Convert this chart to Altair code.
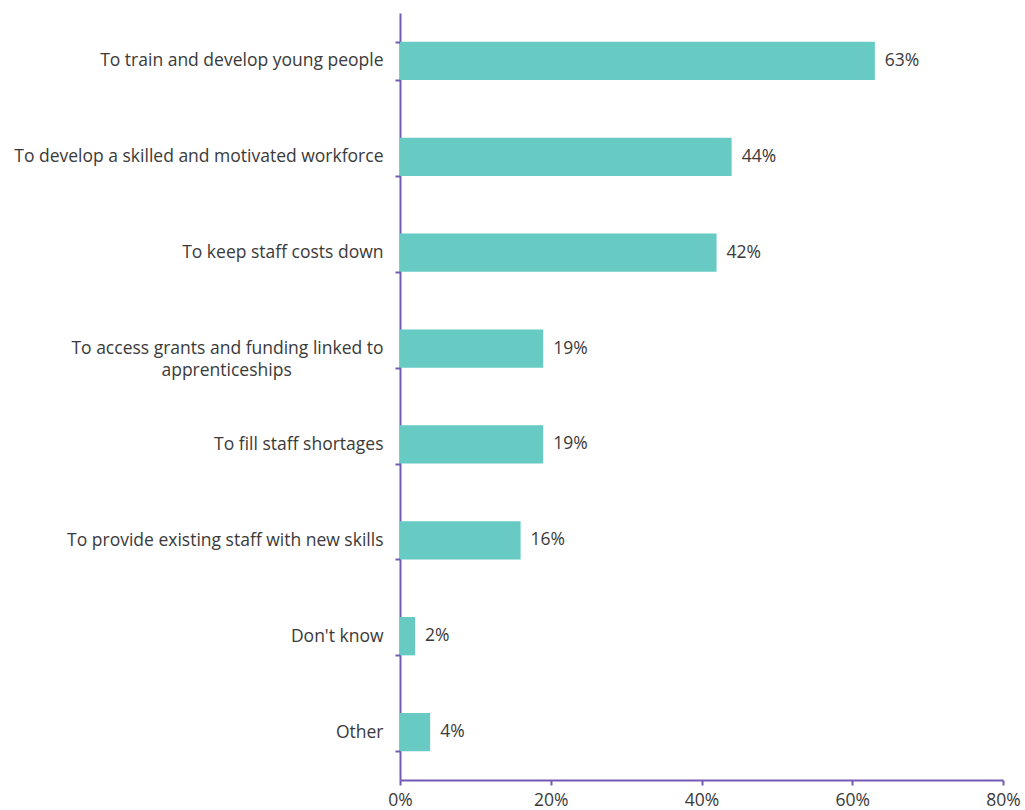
import altair as alt
import pandas as pd

categories = [
    "To train and develop young people",
    "To develop a skilled and motivated workforce",
    "To keep staff costs down",
    "To access grants and funding linked to|apprenticeships\u2003\u2003\u2003\u2003\u2002\u2800",
    "To fill staff shortages",
    "To provide existing staff with new skills",
    "Don't know",
    "Other",
]
values = [0.63, 0.44, 0.42, 0.19, 0.19, 0.16, 0.02, 0.04]
x_ticks = [0, 0.2, 0.4, 0.6, 0.8]

df = pd.DataFrame({"cat": categories, "val": values})
df["lab"] = [f"{round(v*100)}%" for v in values]

AXIS = "#7559B6"
BAR = "#67CBC4"
TXT = "#3a3a3a"
FONT = "Open Sans"
FS = 17.5

y_enc = alt.Y(
    "cat:N",
    sort=categories,
    title=None,
    scale=alt.Scale(paddingInner=0.6, paddingOuter=0.3),
    axis=alt.Axis(
        domainColor=AXIS,
        domainWidth=2,
        tickColor=AXIS,
        tickWidth=2,
        tickSize=5,
        tickBand="extent",
        labelFont=FONT,
        labelFontSize=FS,
        labelColor=TXT,
        labelPadding=12,
        labelLimit=500,
        labelLineHeight=22,
        labelExpr="split(datum.label, '|')",
    ),
)

x_enc = alt.X(
    "val:Q",
    title=None,
    scale=alt.Scale(domain=[0, 0.8], nice=False),
    axis=alt.Axis(
        values=x_ticks,
        format=".0%",
        grid=False,
        domainColor=AXIS,
        domainWidth=2,
        tickColor=AXIS,
        tickWidth=2,
        tickSize=5,
        labelFont=FONT,
        labelFontSize=FS,
        labelColor=TXT,
        labelPadding=6,
        labelFlush=False,
    ),
)

base = alt.Chart(df)
bars = base.mark_bar(color=BAR).encode(x=x_enc, y=y_enc)
text = base.mark_text(
    align="left", baseline="middle", dx=10, font=FONT, fontSize=FS, color=TXT
).encode(x="val:Q", y=alt.Y("cat:N", sort=categories), text="lab:N")

chart = (
    alt.layer(bars, text)
    .properties(
        width=603,
        height=767,
        autosize=alt.AutoSizeParams(type="none"),
        padding={"left": 400, "top": 13, "right": 22, "bottom": 30},
    )
    .configure_view(stroke=None)
)

chart.save("out.html", embed_options={"renderer": "svg", "actions": False})
